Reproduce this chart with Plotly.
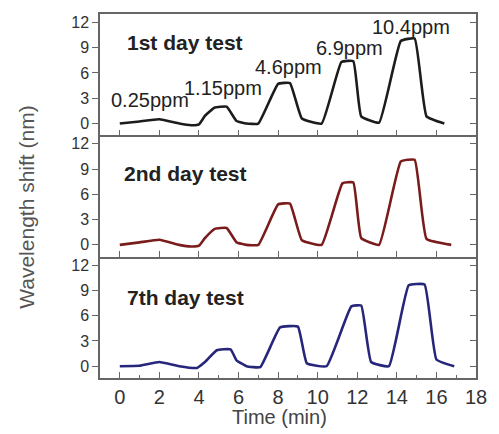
import plotly.graph_objects as go

# ---------------- data ----------------
t_day1 = [0, 1, 2, 3, 3.6, 4.0, 4.3, 4.8, 5.4, 5.9, 6.4, 7.0, 8.0, 8.6, 9.2, 10.2, 11.2, 11.8, 12.2, 13.1, 14.2, 14.9, 15.5, 16.4]
y_day1 = [0, 0.25, 0.5, 0.0, -0.2, -0.1, 0.9, 1.9, 2.0, 0.3, 0.0, 0.0, 4.7, 4.8, 0.6, 0.0, 7.3, 7.4, 0.85, 0.1, 9.8, 10.1, 0.85, 0.0]

t_day2 = [0, 1, 2, 3, 3.6, 4.0, 4.3, 4.8, 5.4, 5.9, 6.4, 7.0, 8.0, 8.6, 9.2, 10.2, 11.25, 11.8, 12.2, 13.1, 14.2, 14.9, 15.5, 16.75]
y_day2 = [0, 0.3, 0.6, 0.0, -0.2, -0.1, 0.8, 1.9, 2.0, 0.3, 0.0, 0.0, 4.8, 4.9, 0.55, 0.0, 7.3, 7.4, 0.8, 0.0, 9.9, 10.1, 0.7, 0.0]

t_day7 = [0, 1, 2, 3, 3.9, 4.3, 4.9, 5.6, 5.9, 6.4, 7.1, 8.1, 9.0, 9.45, 10.45, 11.7, 12.2, 12.7, 13.6, 14.6, 15.4, 16.0, 16.9]
y_day7 = [0, 0.05, 0.5, 0.0, -0.2, 0.5, 1.9, 2.0, 0.7, 0.0, -0.1, 4.6, 4.7, 0.35, 0.0, 7.1, 7.2, 0.5, 0.0, 9.6, 9.7, 0.8, 0.0]

panel_labels = ["1st day test", "2nd day test", "7th day test"]
conc_labels = ["0.25ppm", "1.15ppm", "4.6ppm", "6.9ppm", "10.4ppm"]
conc_x = [1.55, 5.2, 8.5, 11.6, 14.7]
conc_y = [2.8, 4.2, 6.7, 9.0, 11.5]

y_ticks = [0, 3, 6, 9, 12]
x_ticks = [0, 2, 4, 6, 8, 10, 12, 14, 16, 18]

colors = ["#1c1c1c", "#7a1c1c", "#26267a"]
series = [(t_day1, y_day1), (t_day2, y_day2), (t_day7, y_day7)]

# ---------------- figure ----------------
FONT = "Liberation Sans, Arial, sans-serif"
AX = "#666666"
TXT = "#333333"
YR = [-1.4, 13.0]
XR = [-1, 18]
W, H = 499, 434
L, R, T, B = 100, 14, 14, 56

fig = go.Figure()
domains = [[2/3, 1.0], [1/3, 2/3], [0.0, 1/3]]

for i, ((tx, ty), c) in enumerate(zip(series, colors)):
    n = i + 1
    fig.add_trace(go.Scatter(x=tx, y=ty, mode="lines",
                             line=dict(color=c, width=2.6, shape="spline", smoothing=0.35),
                             xaxis="x" if n == 1 else f"x{n}",
                             yaxis="y" if n == 1 else f"y{n}",
                             showlegend=False, hoverinfo="skip"))

layout = dict(
    width=W, height=H,
    margin=dict(l=L, r=R, t=T, b=B),
    paper_bgcolor="white", plot_bgcolor="white",
    font=dict(family=FONT, color=TXT),
    showlegend=False,
)

for i in range(3):
    n = i + 1
    xk = "xaxis" if n == 1 else f"xaxis{n}"
    yk = "yaxis" if n == 1 else f"yaxis{n}"
    yr = "y" if n == 1 else f"y{n}"
    xr = "x" if n == 1 else f"x{n}"
    bottom = (n == 3)
    layout[xk] = dict(
        range=XR, anchor=yr, domain=[0, 1],
        tickvals=x_ticks, ticks="inside", ticklen=6, tickwidth=1.3, tickcolor=AX,
        showticklabels=bottom, tickfont=dict(size=20, color=TXT, family=FONT),
        showline=True, linecolor=AX, linewidth=1.5, mirror=(n == 1),
        showgrid=False, zeroline=False,
        minor=dict(tickvals=[1, 3, 5, 7, 9, 11, 13, 15, 17], ticks="inside", ticklen=3,
                   tickcolor=AX, tickwidth=1.2) if bottom else None,
    )
    if n != 1:
        layout[xk]["matches"] = "x"
    layout[yk] = dict(
        range=YR, domain=domains[i], anchor=xr,
        tickvals=y_ticks, ticks="outside", ticklen=6, tickwidth=1.3, tickcolor=AX,
        tickfont=dict(size=16, color=TXT, family=FONT),
        showline=True, linecolor=AX, linewidth=1.5, mirror=True,
        showgrid=False, zeroline=False,
    )
    rk = f"yaxis{n + 3}"
    layout[rk] = dict(
        range=YR, overlaying=yr, side="right", anchor=xr,
        tickvals=y_ticks, ticks="inside", ticklen=6, tickwidth=1.3, tickcolor=AX,
        showticklabels=False, showline=False, showgrid=False, zeroline=False,
    )

fig.update_layout(**layout)
for i in range(3):
    n = i + 1
    fig.add_trace(go.Scatter(x=[None], y=[None], xaxis="x" if n == 1 else f"x{n}",
                             yaxis=f"y{n + 3}", showlegend=False, hoverinfo="skip"))

pw, ph = W - L - R, H - T - B
ann = []
panel_y = [9.6, 8.5, 8.2]
for i, lab in enumerate(panel_labels):
    n = i + 1
    ann.append(dict(text=f"<b>{lab}</b>", x=3.3, y=panel_y[i],
                    xref="x" if n == 1 else f"x{n}", yref="y" if n == 1 else f"y{n}",
                    xanchor="center", yanchor="middle",
                    showarrow=False, font=dict(size=21, color="#222222", family=FONT)))
for lab, cx, cy in zip(conc_labels, conc_x, conc_y):
    ann.append(dict(text=lab, x=cx, y=cy, xref="x", yref="y", showarrow=False,
                    xanchor="center", yanchor="middle",
                    font=dict(size=20, color="#222222", family=FONT)))
ann.append(dict(text="Time (min)", x=(284 - L) / pw, y=(H - B - 417) / ph,
                xref="paper", yref="paper", xanchor="center", yanchor="middle", showarrow=False,
                font=dict(size=20, color="#444444", family=FONT)))
ann.append(dict(text="Wavelength shift (nm)", x=(24 - L) / pw, y=(H - B - 207) / ph,
                xref="paper", yref="paper", xanchor="center", yanchor="middle",
                textangle=-90, showarrow=False,
                font=dict(size=21, color="#555555", family=FONT)))
fig.update_layout(annotations=ann)

fig.write_html("out.html", config={"displayModeBar": False},
               post_script="document.body.style.margin='0';")
